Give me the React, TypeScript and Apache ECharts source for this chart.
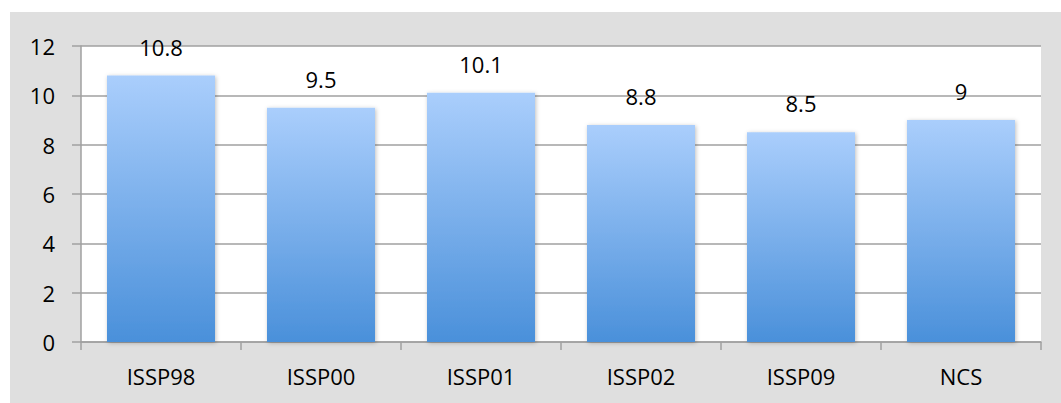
import React, { useEffect, useRef } from "react";
import * as echarts from "echarts";

const categories = ["ISSP98", "ISSP00", "ISSP01", "ISSP02", "ISSP09", "NCS"];
const values = [10.8, 9.5, 10.1, 8.8, 8.5, 9];
const yTicks = { min: 0, max: 12, interval: 2 };

export default function App() {
  const ref = useRef<HTMLDivElement>(null);
  useEffect(() => {
    if (!ref.current) return;
    const chart = echarts.init(ref.current, null, { renderer: "svg" });
    const font = "'Open Sans', 'Liberation Sans', sans-serif";
    chart.setOption({
      animation: false,
      backgroundColor: "#ffffff",
      graphic: [
        {
          type: "rect",
          z: -10,
          silent: true,
          shape: { x: 10, y: 12, width: 1051, height: 391 },
          style: { fill: "#dfdfdf" },
        },
      ],
      grid: {
        left: 81,
        right: 20,
        top: 46,
        bottom: 61,
        show: true,
        backgroundColor: "#ffffff",
        borderWidth: 0,
      },
      xAxis: {
        type: "category",
        data: categories,
        axisLine: { show: true, lineStyle: { color: "#a0a0a0", width: 1.5 } },
        axisTick: { show: true, length: 8, lineStyle: { color: "#a0a0a0", width: 1.5 } },
        axisLabel: { color: "#000", fontSize: 22, fontFamily: font, margin: 23 },
      },
      yAxis: {
        type: "value",
        min: yTicks.min,
        max: yTicks.max,
        interval: yTicks.interval,
        axisLine: { show: true, lineStyle: { color: "#a0a0a0", width: 1.5 } },
        axisTick: { show: true, length: 9, lineStyle: { color: "#a0a0a0", width: 1.5 } },
        splitLine: { show: true, lineStyle: { color: "#a0a0a0", width: 1.5 } },
        axisLabel: { color: "#000", fontSize: 22, fontFamily: font, margin: 26 },
      },
      series: [
        {
          type: "bar",
          data: values,
          barCategoryGap: "32.5%",
          itemStyle: {
            color: new echarts.graphic.LinearGradient(0, 0, 0, 1, [
              { offset: 0, color: "#aacefc" },
              { offset: 1, color: "#4a90da" },
            ]),
            shadowColor: "rgba(0,0,0,0.25)",
            shadowBlur: 4,
            shadowOffsetX: 1,
            shadowOffsetY: 1,
          },
          label: {
            show: true,
            position: "top",
            distance: 18,
            color: "#000",
            fontSize: 22,
            fontFamily: font,
          },
        },
      ],
    });
    return () => chart.dispose();
  }, []);
  return (
    <div
      ref={ref}
      style={{ position: "absolute", left: 0, top: 0, width: 1061, height: 403 }}
    />
  );
}
